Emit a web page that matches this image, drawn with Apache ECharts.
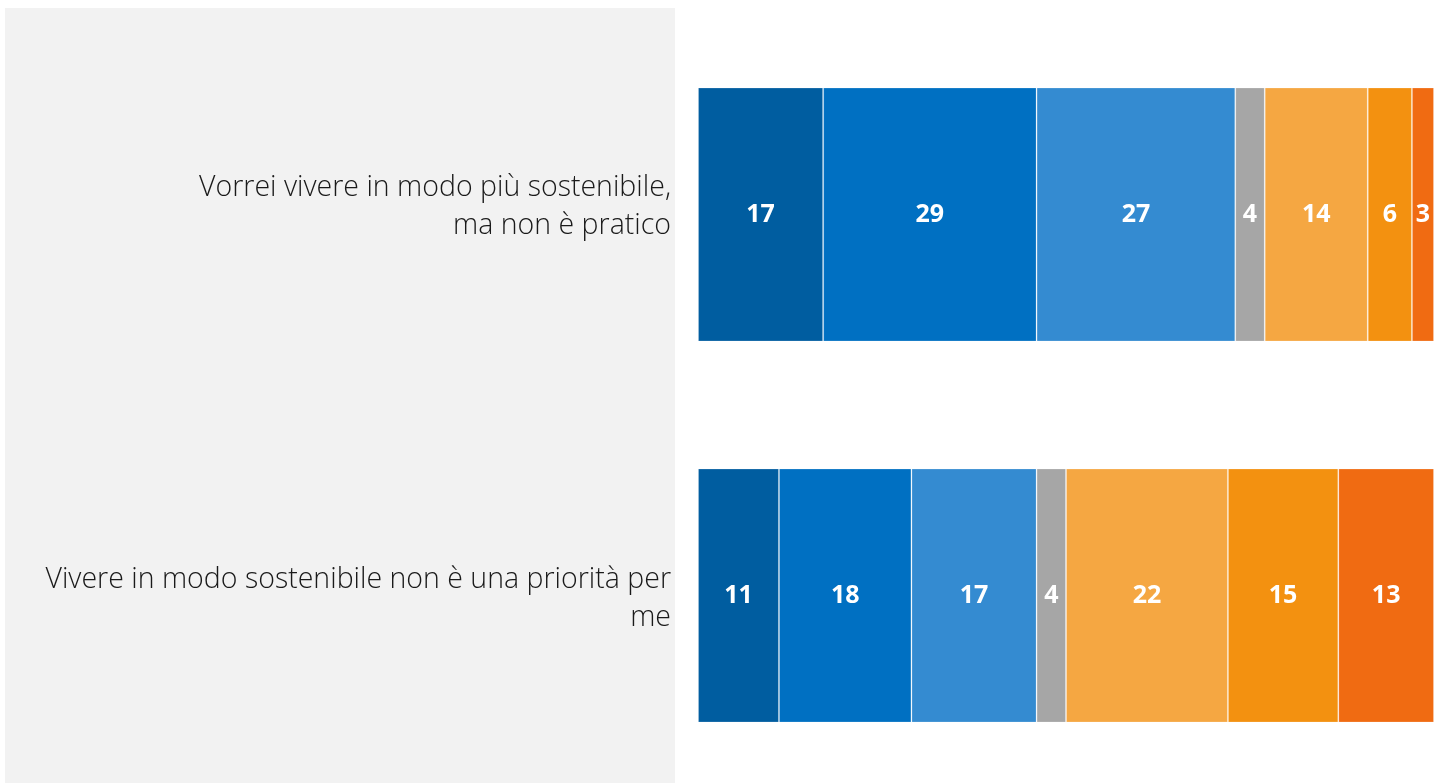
<!DOCTYPE html>
<html>
<head>
<meta charset="utf-8">
<script src="https://cdn.jsdelivr.net/npm/echarts@6/dist/echarts.min.js"></script>
<style>
  html, body { margin: 0; padding: 0; background: #fff; overflow: hidden; }
  #main { width: 1434px; height: 790px; }
</style>
</head>
<body>
<div id="main"></div>
<script>
  // domande (dall'alto verso il basso)
  var categories = [
    'Vorrei vivere in modo più sostenibile,\nma non è pratico',
    'Vivere in modo sostenibile non è una priorità per\nme'
  ];
  // 7 livelli di accordo, da sinistra a destra
  var level1 = [17, 11];
  var level2 = [29, 18];
  var level3 = [27, 17];
  var level4 = [4, 4];
  var level5 = [14, 22];
  var level6 = [6, 15];
  var level7 = [3, 13];

  var colors = ['#005da0', '#0070c2', '#348bd1', '#a6a6a6', '#f5a742', '#f39110', '#f06b12'];
  var levels = [level1, level2, level3, level4, level5, level6, level7];

  var series = levels.map(function (vals, i) {
    return {
      name: 'L' + (i + 1),
      type: 'bar',
      stack: 'tot',
      barWidth: 254,
      data: vals,
      itemStyle: {
        color: colors[i],
        borderColor: 'rgba(255,255,255,0.2)',
        borderWidth: 1
      },
      label: {
        show: true,
        position: 'inside',
        color: '#fff',
        fontFamily: 'Open Sans',
        fontWeight: 'bold',
        fontSize: 25,
        padding: [7, 0, 0, 0]
      },
      emphasis: { disabled: true }
    };
  });

  var myChart = echarts.init(document.getElementById('main'));
  var option = {
    animation: false,
    backgroundColor: '#fff',
    graphic: [{
      type: 'rect',
      z: -10,
      shape: { x: 5, y: 8, width: 670, height: 782 },
      style: { fill: '#f2f2f2' }
    }],
    grid: { left: 698, right: 0, top: 24, height: 762 },
    xAxis: {
      type: 'value',
      min: 0,
      max: 100,
      show: false
    },
    yAxis: {
      type: 'category',
      inverse: true,
      data: categories,
      axisLine: { show: false },
      axisTick: { show: false },
      axisLabel: {
        margin: 27,
        color: '#1a1a1a',
        fontFamily: 'Open Sans',
        fontWeight: 300,
        fontSize: 28.5,
        lineHeight: 37.5,
        align: 'right',
        // spostamento verticale come nell'originale
        formatter: function (value, idx) {
          return idx === 0 ? value + '\n{s0| }' : '{s1| }\n' + value;
        },
        rich: {
          s0: { fontSize: 4, lineHeight: 15 },
          s1: { fontSize: 4, lineHeight: 7 }
        }
      }
    },
    series: series
  };
  myChart.setOption(option);
  window.addEventListener('resize', function () { myChart.resize(); });
</script>
</body>
</html>
